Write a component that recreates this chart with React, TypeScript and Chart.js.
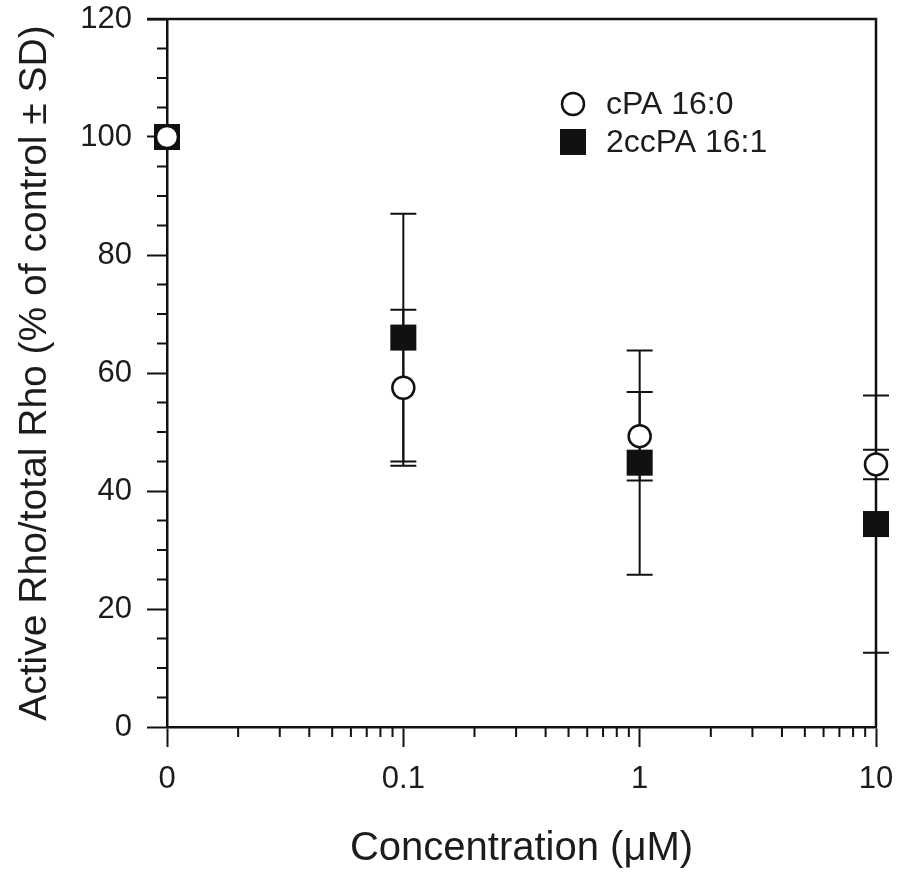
import React, { useEffect, useRef } from "react";
import { Chart, registerables } from "chart.js";

Chart.register(...registerables);

// Concentration (µM); the "0" control is plotted one decade left of 0.1
const CONCENTRATIONS = [0.01, 0.1, 1, 10];
const X_TICK_VALUES = [0.01, 0.1, 1, 10];
const X_TICK_LABELS = ["0", "0.1", "1", "10"];

const CPA_LABEL = "cPA 16:0";
const CPA_MEAN = [100, 57.5, 49.3, 44.5];
const CPA_SD = [0, 13.2, 7.5, 2.5];

const CCPA_LABEL = "2ccPA 16:1";
const CCPA_MEAN = [100, 66, 44.8, 34.4];
const CCPA_SD = [0, 21, 19, 21.8];

const Y_MIN = 0;
const Y_MAX = 120;
const Y_STEP = 20;
const Y_MINOR_STEP = 5;

const FONT = "'Liberation Sans', Arial, Helvetica, sans-serif";
const INK = "#111";
const TEXT = "#1c1c1c";

const errorBarPlugin = {
  id: "errorBars",
  beforeDatasetsDraw(chart: any) {
    const ctx = chart.ctx;
    const yScale = chart.scales.y;
    ctx.save();
    ctx.strokeStyle = INK;
    ctx.lineWidth = 2;
    chart.data.datasets.forEach((ds: any, i: number) => {
      const meta = chart.getDatasetMeta(i);
      const sds: number[] = ds.sd || [];
      meta.data.forEach((pt: any, j: number) => {
        const sd = sds[j];
        if (!sd) return;
        const mean = ds.data[j].y;
        const x = pt.x;
        const yTop = yScale.getPixelForValue(mean + sd);
        const yBot = yScale.getPixelForValue(mean - sd);
        const cap = 13;
        ctx.beginPath();
        ctx.moveTo(x, yTop);
        ctx.lineTo(x, yBot);
        ctx.moveTo(x - cap, yTop);
        ctx.lineTo(x + cap, yTop);
        ctx.moveTo(x - cap, yBot);
        ctx.lineTo(x + cap, yBot);
        ctx.stroke();
      });
    });
    ctx.restore();
  },
};

const framePlugin = {
  id: "frameAndMinorTicks",
  beforeDatasetsDraw(chart: any) {
    const { ctx, chartArea } = chart;
    const { left, right, top, bottom } = chartArea;
    const xScale = chart.scales.x;
    const yScale = chart.scales.y;
    ctx.save();
    ctx.strokeStyle = INK;
    ctx.lineWidth = 2.5;
    ctx.beginPath();
    ctx.moveTo(left - 20, top);
    ctx.lineTo(right, top);
    ctx.lineTo(right, bottom);
    ctx.stroke();

    ctx.lineWidth = 2;
    ctx.beginPath();
    for (let d = 0; d < X_TICK_VALUES.length - 1; d++) {
      const base = X_TICK_VALUES[d];
      for (let m = 2; m <= 9; m++) {
        const px = xScale.getPixelForValue(base * m);
        ctx.moveTo(px, bottom);
        ctx.lineTo(px, bottom + 10);
      }
    }
    for (let v = Y_MIN; v <= Y_MAX; v += Y_MINOR_STEP) {
      if (v % Y_STEP === 0) continue;
      const py = yScale.getPixelForValue(v);
      ctx.moveTo(left - 10, py);
      ctx.lineTo(left, py);
    }
    ctx.stroke();
    ctx.restore();
  },
  afterDraw(chart: any) {
    const ctx = chart.ctx;
    ctx.save();
    const lx = 573;
    const rows = [
      { y: 104, label: CPA_LABEL, kind: "circle" },
      { y: 142, label: CCPA_LABEL, kind: "square" },
    ];
    ctx.font = `32px ${FONT}`;
    ctx.textBaseline = "middle";
    ctx.textAlign = "left";
    rows.forEach((r) => {
      if (r.kind === "circle") {
        ctx.beginPath();
        ctx.arc(lx, r.y, 11, 0, Math.PI * 2);
        ctx.fillStyle = "#fff";
        ctx.fill();
        ctx.lineWidth = 2.5;
        ctx.strokeStyle = INK;
        ctx.stroke();
      } else {
        ctx.fillStyle = INK;
        ctx.fillRect(lx - 13, r.y - 13, 26, 26);
      }
      ctx.fillStyle = TEXT;
      ctx.fillText(r.label, 606, r.y + 1);
    });
    ctx.restore();
  },
};

export default function App() {
  const canvasRef = useRef<HTMLCanvasElement | null>(null);

  useEffect(() => {
    const canvas = canvasRef.current;
    if (!canvas) return;
    const chart = new Chart(canvas, {
      type: "scatter",
      data: {
        datasets: [
          {
            label: CPA_LABEL,
            data: CONCENTRATIONS.map((x, i) => ({ x, y: CPA_MEAN[i] })),
            sd: CPA_SD,
            clip: false,
            pointStyle: "circle",
            pointRadius: 11,
            pointHoverRadius: 11,
            pointBackgroundColor: "#fff",
            pointBorderColor: INK,
            pointBorderWidth: 2.5,
            showLine: false,
          } as any,
          {
            label: CCPA_LABEL,
            data: CONCENTRATIONS.map((x, i) => ({ x, y: CCPA_MEAN[i] })),
            sd: CCPA_SD,
            clip: false,
            pointStyle: "rect",
            pointRadius: 18.4,
            pointHoverRadius: 18.4,
            pointBackgroundColor: INK,
            pointBorderColor: INK,
            pointBorderWidth: 0,
            showLine: false,
          } as any,
        ],
      },
      options: {
        animation: false,
        responsive: false,
        devicePixelRatio: 1,
        layout: { padding: { top: 19, right: 22, left: 0, bottom: 0 } },
        plugins: {
          legend: { display: false },
          tooltip: { enabled: false },
        },
        scales: {
          x: {
            type: "logarithmic",
            min: 0.01,
            max: 10,
            afterBuildTicks: (scale: any) => {
              scale.ticks = X_TICK_VALUES.map((v) => ({ value: v }));
            },
            afterFit: (scale: any) => {
              scale.height = 150;
              scale.paddingLeft = 0;
              scale.paddingRight = 0;
            },
            ticks: {
              autoSkip: false,
              maxRotation: 0,
              padding: 14,
              color: TEXT,
              font: { family: FONT, size: 31 },
              callback: (value: any) => {
                const idx = X_TICK_VALUES.findIndex((v) => Math.abs(v - Number(value)) < 1e-9);
                return idx >= 0 ? X_TICK_LABELS[idx] : "";
              },
            },
            grid: {
              drawOnChartArea: false,
              drawTicks: true,
              tickLength: 20,
              tickWidth: 2,
              tickColor: INK,
              color: INK,
            },
            border: { display: true, color: INK, width: 2.5 },
            title: {
              display: true,
              text: "Concentration (μM)",
              color: TEXT,
              font: { family: FONT, size: 40 },
              padding: { top: 0, bottom: 4 },
            },
          },
          y: {
            type: "linear",
            min: Y_MIN,
            max: Y_MAX,
            afterFit: (scale: any) => {
              scale.width = 167;
              scale.paddingTop = 0;
              scale.paddingBottom = 0;
            },
            ticks: {
              stepSize: Y_STEP,
              padding: 15,
              color: TEXT,
              font: { family: FONT, size: 31 },
            },
            grid: {
              drawOnChartArea: false,
              drawTicks: true,
              tickLength: 20,
              tickWidth: 2,
              tickColor: INK,
              color: INK,
            },
            border: { display: true, color: INK, width: 2.5 },
            title: {
              display: true,
              text: "Active Rho/total Rho (% of control ± SD)",
              color: TEXT,
              font: { family: FONT, size: 39 },
              padding: { top: 12, bottom: 0 },
            },
          },
        },
      },
      plugins: [errorBarPlugin, framePlugin],
    } as any);
    return () => chart.destroy();
  }, []);

  return (
    <div style={{ position: "fixed", left: 0, top: 0, width: 898, height: 877, background: "#fff" }}>
      <canvas ref={canvasRef} width={898} height={877} style={{ width: 898, height: 877, display: "block" }} />
    </div>
  );
}
